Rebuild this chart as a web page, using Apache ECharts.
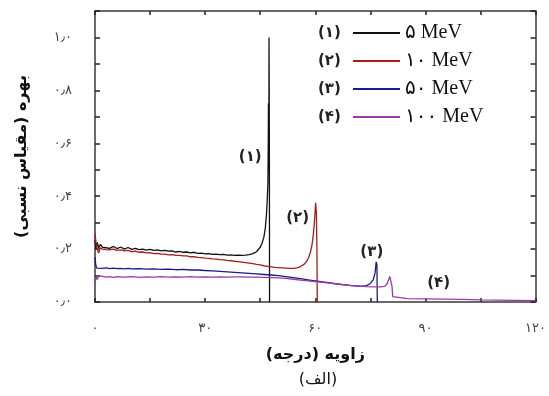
<!DOCTYPE html>
<html>
<head>
<meta charset="utf-8">
<script src="https://cdn.jsdelivr.net/npm/echarts@6/dist/echarts.min.js"></script>
<style>html,body{margin:0;padding:0;background:#fff}#c{width:549px;height:396px}</style>
</head>
<body>
<div id="c"></div>
<script>
// ---- data (angle in degrees, relative yield) ----
const seriesNames = ['۵ MeV', '۱۰ MeV', '۵۰ MeV', '۱۰۰ MeV'];
const seriesTags = ['(۱)', '(۲)', '(۳)', '(۴)'];
const xTickLabels = {0: '۰', 30: '۳۰', 60: '۶۰', 90: '۹۰', 120: '۱۲۰'};
const yTickLabels = {0: '۰٫۰', 2: '۰٫۲', 4: '۰٫۴', 6: '۰٫۶', 8: '۰٫۸', 10: '۱٫۰'};

const data5 = [
  [0,0.235],[0.3,0.2],[0.6,0.225],[1,0.205],[1.5,0.218],[2,0.207],[2.5,0.214],[3,0.205],[3.5,0.212],[4,0.203],
  [5,0.21],[6,0.202],[7,0.208],[8,0.2],[9,0.206],[10,0.199],[11,0.203],[12,0.198],[13,0.2],[14,0.196],
  [15,0.199],[16,0.195],[17,0.197],[18,0.193],[19,0.195],[20,0.192],[21,0.193],[22,0.189],[23,0.191],[24,0.188],
  [25,0.189],[26,0.186],[27,0.188],[28,0.184],[29,0.185],[30,0.182],[31,0.183],[32,0.18],[33,0.181],[34,0.179],
  [35,0.18],[36,0.177],[37,0.178],[38,0.176],[39,0.177],[40,0.176],[41,0.177],[42,0.179],[43,0.183],[44,0.19],
  [44.5,0.197],[45,0.207],[45.5,0.222],[46,0.245],[46.4,0.28],[46.7,0.33],[46.9,0.38],[47.1,0.45],[47.2,0.6],
  [47.25,0.75],[47.3,0.52],[47.35,0.5],[47.4,1.0],[47.5,0.6],[47.55,0.0]
];
const data10 = [
  [0,0.26],[0.3,0.22],[0.6,0.2],[1,0.185],[1.4,0.205],[2,0.2],[2.5,0.204],[3,0.198],[3.5,0.202],[4,0.197],
  [5,0.2],[6,0.195],[7,0.197],[8,0.193],[9,0.195],[10,0.19],[11,0.192],[12,0.188],[13,0.189],[14,0.186],
  [15,0.187],[16,0.183],[17,0.184],[18,0.181],[19,0.181],[20,0.178],[21,0.179],[22,0.176],[23,0.176],[24,0.174],
  [25,0.174],[26,0.171],[27,0.171],[28,0.169],[29,0.168],[30,0.166],[31,0.165],[32,0.163],[33,0.162],[34,0.16],
  [35,0.159],[36,0.157],[37,0.156],[38,0.154],[39,0.153],[40,0.151],[41,0.149],[42,0.147],[43,0.145],[44,0.142],
  [45,0.14],[46,0.137],[47,0.135],[48,0.133],[49,0.131],[50,0.13],[51,0.129],[52,0.128],[53,0.127],[54,0.127],
  [55,0.129],[56,0.134],[57,0.143],[57.6,0.152],[58.2,0.168],[58.7,0.19],[59.1,0.215],[59.4,0.245],[59.7,0.29],
  [59.9,0.33],[60.1,0.375],[60.3,0.34],[60.45,0.2],[60.55,0.0]
];
const data50 = [
  [0,0.17],[0.2,0.14],[0.5,0.128],[1,0.131],[2,0.127],[3,0.129],[4,0.126],[5,0.128],[6,0.126],[7,0.127],
  [8,0.125],[9,0.127],[10,0.125],[12,0.126],[14,0.124],[16,0.125],[18,0.123],[20,0.124],[22,0.122],[24,0.123],
  [26,0.121],[28,0.121],[30,0.119],[32,0.118],[34,0.116],[36,0.114],[38,0.112],[40,0.11],[42,0.108],[44,0.106],
  [46,0.104],[48,0.102],[50,0.1],[52,0.096],[54,0.092],[56,0.088],[58,0.084],[60,0.08],[62,0.076],[64,0.072],
  [66,0.068],[68,0.065],[70,0.062],[72,0.06],[73,0.06],[74,0.062],[75,0.07],[75.8,0.085],[76.3,0.11],
  [76.6,0.152],[76.8,0.14],[76.9,0.0]
];
const data100 = [
  [0,0.07],[0.3,0.095],[0.6,0.085],[1,0.1],[1.5,0.093],[2,0.097],[3,0.094],[4,0.096],[5,0.093],[6,0.096],
  [8,0.094],[10,0.096],[12,0.093],[14,0.095],[16,0.094],[18,0.096],[20,0.094],[22,0.095],[24,0.094],[26,0.096],
  [28,0.094],[30,0.095],[32,0.094],[34,0.095],[36,0.094],[38,0.095],[40,0.095],[42,0.094],[44,0.094],[46,0.093],
  [48,0.092],[50,0.091],[52,0.089],[54,0.086],[56,0.083],[58,0.08],[60,0.077],[62,0.074],[64,0.071],[66,0.068],
  [68,0.065],[70,0.062],[72,0.06],[74,0.058],[76,0.057],[78,0.057],[79,0.06],[79.6,0.07],[80,0.085],[80.3,0.097],
  [80.6,0.09],[80.9,0.06],[81.1,0.02],[81.5,0.014],[85,0.013],[90,0.012],[95,0.011],[100,0.01],[105,0.008],
  [110,0.007],[115,0.006],[120,0.005]
];
const allData = [data5, data10, data50, data100];
const colors = ['#111111', '#a81c1c', '#1a1a8a', '#9a3aa6'];
// annotation anchor points (angle, yield) for tags inside plot
const tagAnchors = [[42.3, 0.547], [55.2, 0.317], [75.4, 0.189], [93.6, 0.072]];

const RLM = '\u200F';
const persianFont = '"DejaVu Sans", sans-serif';
const chart = echarts.init(document.getElementById('c'));

const axisLineStyle = {color: '#3a3a3a', width: 1.5};
const tickStyle = {color: '#222', width: 1.5};
const series = allData.map((d, i) => ({
  name: seriesNames[i],
  type: 'line',
  data: d,
  symbol: 'none',
  lineStyle: {color: colors[i], width: 1.3},
  itemStyle: {color: colors[i]},
  z: 2 + i,
  animation: false,
  markPoint: {
    symbol: 'circle', symbolSize: 0,
    label: {show: true, formatter: seriesTags[i], color: '#222', fontFamily: persianFont,
            fontWeight: 'bold', fontSize: 15},
    data: [{coord: tagAnchors[i]}]
  }
}));

chart.setOption({
  animation: false,
  backgroundColor: '#fff',
  grid: {left: 95, right: 8, top: 11, bottom: 94},
  xAxis: [{
    type: 'value', min: 0, max: 120, interval: 15,
    axisLine: {show: true, onZero: false, lineStyle: axisLineStyle},
    axisTick: {show: true, inside: true, length: 4, lineStyle: tickStyle},
    splitLine: {show: false},
    axisLabel: {margin: 20, fontFamily: persianFont, fontSize: 13, color: '#444',
                formatter: v => (xTickLabels[v] !== undefined ? xTickLabels[v] : '')},
    name: 'زاویه (درجه)' + RLM, nameLocation: 'middle', nameGap: 45,
    nameTextStyle: {fontFamily: persianFont, fontWeight: 'bold', fontSize: 16, color: '#111'}
  }, {
    type: 'value', min: 0, max: 120, interval: 15, position: 'top',
    axisLine: {show: true, onZero: false, lineStyle: axisLineStyle},
    axisTick: {show: true, inside: true, length: 4, lineStyle: tickStyle},
    axisLabel: {show: false}, splitLine: {show: false}
  }],
  yAxis: [{
    type: 'value', min: 0, max: 1.1, interval: 0.1,
    axisLine: {show: true, onZero: false, lineStyle: axisLineStyle},
    axisTick: {show: true, inside: true, length: 5, lineStyle: tickStyle},
    splitLine: {show: false},
    axisLabel: {margin: 23, fontFamily: persianFont, fontSize: 13, color: '#444',
                formatter: v => { const k = Math.round(v * 10); return yTickLabels[k] !== undefined ? yTickLabels[k] : ''; }},
    name: 'بهره (مقیاس نسبی)' + RLM, nameLocation: 'middle', nameGap: 65,
    nameTextStyle: {fontFamily: persianFont, fontWeight: 'bold', fontSize: 16, color: '#111'}
  }, {
    type: 'value', min: 0, max: 1.1, interval: 0.1, position: 'right',
    axisLine: {show: true, onZero: false, lineStyle: axisLineStyle},
    axisTick: {show: true, inside: true, length: 5, lineStyle: tickStyle},
    axisLabel: {show: false}, splitLine: {show: false}
  }],
  legend: [{
    orient: 'vertical', left: 353, top: 23, padding: 0, itemWidth: 47, itemHeight: 2, itemGap: 8,
    icon: 'rect', data: seriesNames, selectedMode: false,
    textStyle: {fontFamily: '"Liberation Serif", "DejaVu Sans", serif', fontSize: 20, lineHeight: 20,
                color: '#111'}
  }, {
    orient: 'vertical', left: 313, top: 23, padding: 0, itemWidth: 0, itemHeight: 2, itemGap: 8,
    icon: 'rect', align: 'left', data: seriesNames, selectedMode: false,
    formatter: name => seriesTags[seriesNames.indexOf(name)],
    textStyle: {fontFamily: persianFont, fontWeight: 'bold', fontSize: 15, lineHeight: 20, color: '#222'}
  }],
  graphic: [{
    type: 'text', x: 318, y: 380,
    style: {text: RLM + '(الف)' + RLM, font: '16px "DejaVu Sans", sans-serif', fill: '#111',
            textAlign: 'center', textVerticalAlign: 'middle'}
  }],
  series: series
});
</script>
</body>
</html>
